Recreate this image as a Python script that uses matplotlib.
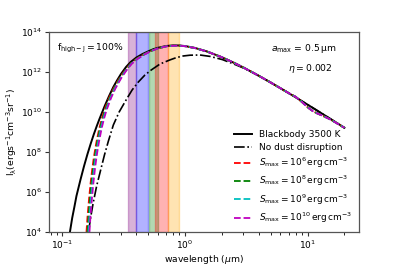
import numpy as np
import matplotlib
matplotlib.use("Agg")
import matplotlib.pyplot as plt

# ---- data ----
# Blackbody 3500 K: wavelength (micron) and log10 intensity
wl_bb = [0.115, 0.12, 0.125, 0.13, 0.14, 0.15, 0.16, 0.17, 0.18, 0.19, 0.2, 0.22, 0.24, 0.26, 0.28,
         0.3, 0.33, 0.36, 0.4, 0.45, 0.5, 0.55, 0.6, 0.7, 0.8, 0.9, 1.0, 1.2, 1.5, 2.0, 2.5, 3.0,
         4.0, 5.0, 6.0, 7.0, 8.0, 9.0, 10.0, 11.0, 12.0, 13.0, 15.0, 17.0, 20.0]
logI_bb = [4.0, 4.7, 5.25, 5.8, 6.6, 7.3, 7.9, 8.42, 8.88, 9.28, 9.64, 10.27, 10.8, 11.25, 11.6,
           11.9, 12.25, 12.5, 12.72, 12.9, 13.03, 13.14, 13.21, 13.30, 13.332, 13.326, 13.298, 13.207,
           13.034, 12.738, 12.465, 12.223, 11.812, 11.475, 11.192, 10.948, 10.734, 10.542, 10.370,
           10.213, 10.069, 9.936, 9.697, 9.487, 9.213]

# No dust disruption
wl_nd = [0.163, 0.17, 0.178, 0.19, 0.202, 0.22, 0.237, 0.26, 0.29, 0.334, 0.37, 0.416, 0.471, 0.53,
         0.625, 0.75, 0.85, 0.964, 1.1, 1.325, 1.6, 2.02, 2.5, 3.0, 3.5, 4.0, 5.0, 6.0, 7.0, 8.0, 9.0,
         10.0, 11.0, 12.0, 13.0, 15.0, 17.0, 20.0]
logI_nd = [4.0, 4.75, 5.45, 6.3, 6.95, 7.85, 8.55, 9.35, 10.0, 10.65, 11.1, 11.5, 11.85, 12.1,
           12.4, 12.6, 12.72, 12.8, 12.84, 12.85, 12.78, 12.62, 12.4, 12.2, 12.0, 11.81, 11.475, 11.192,
           10.948, 10.734, 10.542, 10.370, 10.213, 10.069, 9.936, 9.697, 9.487, 9.213]

# Dust-disruption models: short-wavelength part (each model its own wavelengths)
logI_blue = [4.0, 4.75, 5.7, 6.5, 7.15, 7.7, 8.15, 8.55, 9.2, 9.7, 10.1, 10.7, 11.15, 11.5, 11.8,
             12.15, 12.42, 12.65, 12.85, 12.99, 13.1]
wl_s6 = [0.157, 0.16, 0.165, 0.17, 0.175, 0.18, 0.185, 0.19, 0.2, 0.21, 0.22, 0.24, 0.26, 0.28, 0.3,
         0.33, 0.36, 0.4, 0.45, 0.5, 0.55]
wl_s8 = [0.160, 0.163, 0.168, 0.173, 0.178, 0.183, 0.188, 0.193, 0.203, 0.213, 0.223, 0.243, 0.263,
         0.283, 0.303, 0.333, 0.363, 0.403, 0.453, 0.502, 0.552]
wl_s9 = [0.163, 0.166, 0.171, 0.176, 0.181, 0.186, 0.191, 0.196, 0.206, 0.216, 0.226, 0.246, 0.266,
         0.286, 0.306, 0.336, 0.366, 0.406, 0.456, 0.504, 0.554]
wl_s10 = [0.166, 0.169, 0.174, 0.179, 0.184, 0.189, 0.194, 0.199, 0.209, 0.219, 0.229, 0.249, 0.269,
          0.289, 0.309, 0.339, 0.369, 0.409, 0.459, 0.506, 0.556]
# shared long-wavelength part (with silicate feature near 10 micron)
wl_red = [0.6, 0.7, 0.8, 0.9, 1.0, 1.2, 1.5, 2.0, 2.5, 3.0, 4.0, 5.0, 6.0, 7.0, 8.0, 9.0, 10.0,
          11.0, 12.0, 13.0, 15.0, 17.0, 20.0]
logI_red = [13.18, 13.28, 13.31, 13.315, 13.29, 13.2, 13.03, 12.738, 12.465, 12.223, 11.812, 11.475,
            11.192, 10.948, 10.76, 10.50, 10.24, 10.05, 9.93, 9.84, 9.66, 9.47, 9.21]

s_labels = [r"$S_{\rm max}=10^{6}\,{\rm erg\,cm^{-3}}$",
            r"$S_{\rm max}=10^{8}\,{\rm erg\,cm^{-3}}$",
            r"$S_{\rm max}=10^{9}\,{\rm erg\,cm^{-3}}$",
            r"$S_{\rm max}=10^{10}\,{\rm erg\,cm^{-3}}$"]
s_colors = ["red", "green", "c", "m"]

# photometric bands (micron)
band_lo = [0.343, 0.398, 0.508, 0.569, 0.726]
band_hi = [0.398, 0.496, 0.603, 0.726, 0.893]
band_colors = ["purple", "blue", "green", "red", "orange"]

# ---- plot ----
fig = plt.figure(figsize=(3.99, 2.66), dpi=100)
ax = fig.add_axes([0.1228, 0.1278, 0.7769, 0.7519])

for lo, hi, c in zip(band_lo, band_hi, band_colors):
    ax.axvspan(lo, hi, color=c, alpha=0.3, lw=1)

ax.plot(wl_bb, 10 ** np.array(logI_bb), color="k", lw=1.4, label="Blackbody 3500 K")
ax.plot(wl_nd, 10 ** np.array(logI_nd), color="k", lw=1.2, ls="-.", label="No dust disruption")
for wl, c, lab in zip([wl_s6, wl_s8, wl_s9, wl_s10], s_colors, s_labels):
    x = list(wl) + list(wl_red)
    y = list(logI_blue) + list(logI_red)
    ax.plot(x, 10 ** np.array(y), color=c, lw=1.3, ls="--", label=lab)

ax.set_xscale("log")
ax.set_yscale("log")
ax.set_xlim(0.0776, 26.3)
ax.set_ylim(1e4, 1e14)
ax.set_yticks([1e4, 1e6, 1e8, 1e10, 1e12, 1e14])
ax.yaxis.set_minor_locator(matplotlib.ticker.NullLocator())
ax.tick_params(labelsize=6.5, length=3, width=0.8, pad=2, colors="#333333", labelcolor="k")
ax.tick_params(which="minor", length=1.8, width=0.6)
for s in ax.spines.values():
    s.set_color("#555555")
    s.set_linewidth(0.9)

ax.set_xlabel(r"wavelength ($\mu$m)", fontsize=6.7, labelpad=1)
ax.set_ylabel(r"$\rm I_\lambda (erg s^{-1} cm^{-3} sr^{-1})$", fontsize=6.7, labelpad=1)

ax.text(0.026, 0.918, r"$\rm f_{high-J}=100\%$", transform=ax.transAxes, fontsize=6.7,
        ha="left", va="center")
ax.text(0.93, 0.92, r"$a_{\rm max}$ = 0.5$\,\rm\mu m$", transform=ax.transAxes, fontsize=6.7,
        ha="right", va="center")
ax.text(0.915, 0.82, r"$\eta = 0.002$", transform=ax.transAxes, fontsize=6.7,
        ha="right", va="center")

ax.legend(loc="lower right", fontsize=6.5, frameon=False, handlelength=2.0,
          labelspacing=0.42, borderaxespad=0.4, handletextpad=0.7)

fig.savefig("out.png", dpi=100)
